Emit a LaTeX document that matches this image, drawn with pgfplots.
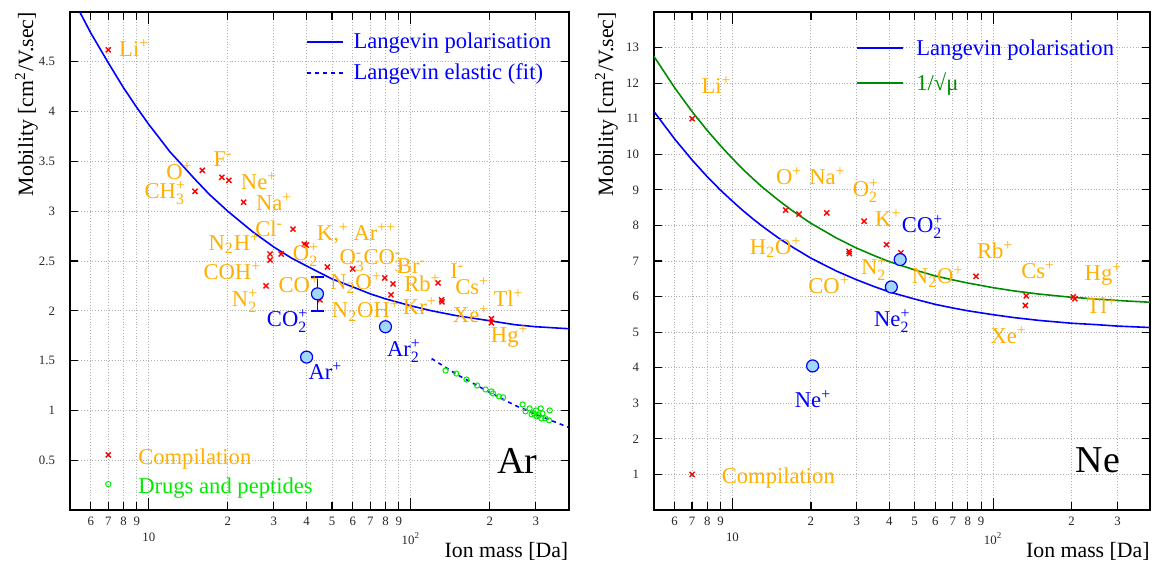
\documentclass[border=0pt]{standalone}
\usepackage{amsmath}
\usepackage{fontspec}
\setmainfont{Liberation Serif}
\usepackage{pgfplots}
\pgfplotsset{compat=1.18}
\definecolor{orng}{RGB}{255,175,0}
\definecolor{rblue}{RGB}{0,0,255}
\definecolor{dgreen}{RGB}{0,140,0}
\definecolor{lgreen}{RGB}{0,235,0}
\definecolor{lblue}{RGB}{160,215,250}

\newcommand{\lblfont}{\fontsize{11.3}{13}\selectfont}
\newcommand{\titfont}{\fontsize{10.9}{13}\selectfont}
% ion charge / subscript helpers (text font)
\newcommand{\up}[1]{$^{\text{#1}}$}
\newcommand{\dn}[1]{$_{\text{#1}}$}
\newcommand{\ud}[2]{$_{\text{#1}}^{\text{#2}}$}

\tikzset{
  lab/.style={anchor=base west, inner sep=0pt, font=\lblfont, text=orng},
  blab/.style={anchor=base west, inner sep=0pt, font=\lblfont, text=rblue},
}
\pgfplotsset{
  cross/.style={only marks, mark=x, mark size=1.8pt, red, mark options={line width=0.7pt}},
  bigc/.style={only marks, mark=*, mark size=3pt,
    mark options={fill=lblue, draw=rblue, line width=0.6pt}},
}

\begin{document}
\begin{tikzpicture}

% ---------------- Ar ----------------
\begin{axis}[
  at={(35pt,28pt)}, anchor=south west,
  scale only axis, width=249.3pt, height=249pt,
  xmode=log, xmin=5, xmax=400, ymin=0, ymax=5,
  xtick={6,7,8,9,20,30,40,50,60,70,80,90,200,300},
  xticklabels={6,7,8,9,2,3,4,5,6,7,8,9,2,3},
  extra x ticks={10,100},
  extra x tick labels={10,10\textsuperscript{2}},
  extra x tick style={major tick length=6pt, xticklabel style={yshift=-8pt}},
  minor xtick={},
  ytick={0.5,1,1.5,2,2.5,3,3.5,4,4.5},
  grid=major,
  grid style={gray!60, densely dotted, line width=0.45pt},
  axis line style={line width=1pt},
  major tick length=4pt,
  tick style={black, line width=0.6pt},
  tick label style={font=\fontsize{6.4}{7}\selectfont, text=black!85},
  yticklabel style={xshift=-4pt},
  /pgf/number format/assume math mode=true,
  clip mode=individual,
]
% Langevin polarisation
\addplot[rblue, line width=0.8pt] coordinates {
  (5,5.19)(5.5,4.98)(6,4.79)(7,4.49)(8,4.24)(9,4.04)(10,3.87)(11,3.73)
  (12,3.60)(13,3.50)(15,3.32)(17,3.17)(20,3.00)(25,2.79)(30,2.64)(35,2.53)
  (40,2.45)(50,2.32)(60,2.24)(70,2.17)(80,2.12)(100,2.05)(120,2.00)
  (150,1.95)(200,1.90)(250,1.86)(300,1.84)(400,1.82)
};
% Langevin elastic (fit)
\addplot[rblue, line width=0.8pt, dash pattern=on 2pt off 2pt] coordinates {
  (120,1.52)(150,1.36)(200,1.18)(250,1.05)(300,0.96)(350,0.89)(400,0.83)
};
% drugs and peptides
\addplot[only marks, mark=o, mark size=1.3pt, lgreen, mark options={line width=0.5pt}] coordinates {
  (135.7,1.40)(149,1.37)(163,1.31)(179,1.25)(193,1.21)(203,1.19)(206,1.17)
  (217,1.14)(225,1.13)(267,1.06)(274,0.99)(284,1.02)(289,0.96)(300,1.00)
  (302,0.94)(313,1.02)(318,0.97)(315,0.92)(326,0.92)(339,1.00)(337,0.90)
  (295,0.97)(308,0.95)
};
% compilation
\addplot[cross] coordinates {
  (7,4.62)(16,3.41)(15,3.20)(19,3.34)(20.2,3.31)(23,3.09)(35.5,2.82)
  (29,2.57)(29,2.51)(32,2.57)(28,2.25)(39.2,2.67)(39.9,2.66)(48,2.44)
  (60,2.42)(45,2.11)(79.5,2.33)(85.5,2.27)(84,2.16)(127,2.28)
  (131,2.11)(131.5,2.09)(203,1.92)(203,1.88)
};
% measured ions (CO2+ with error bar)
\addplot[rblue, line width=0.9pt] coordinates {(44,2.0)(44,2.34)};
\addplot[rblue, line width=0.9pt] coordinates {(41.5,2.34)(46.6,2.34)};
\addplot[rblue, line width=0.9pt] coordinates {(41.5,2.0)(46.6,2.0)};
\addplot[bigc] coordinates {(44,2.17)(40,1.535)(80,1.84)};

% legend (top)
\addplot[rblue, line width=0.8pt] coordinates {(40.2,4.70)(55.1,4.70)};
\addplot[rblue, line width=0.8pt, dash pattern=on 2pt off 2pt] coordinates {(40.2,4.39)(55.1,4.39)};
\node[blab] at (axis cs:60.2,4.63) {Langevin polarisation};
\node[blab] at (axis cs:60.2,4.32) {Langevin elastic (fit)};
% legend (bottom)
\addplot[cross] coordinates {(7,0.553)};
\addplot[only marks, mark=o, mark size=1.3pt, lgreen, mark options={line width=0.5pt}] coordinates {(7,0.26)};
\node[lab] at (axis cs:9.08,0.46) {Compilation};
\node[lab, text=lgreen] at (axis cs:9.08,0.17) {Drugs and peptides};
\node[anchor=base west, inner sep=0pt, font=\fontsize{19}{22}\selectfont] at (axis cs:212.8,0.37) {Ar};

% species labels
\node[lab] at (axis cs:7.68,4.55) {Li\up{+}};
\node[lab] at (axis cs:11.61,3.32) {O\up{+}};
\node[lab] at (axis cs:17.60,3.45) {F\up{-}};
\node[lab] at (axis cs:9.60,3.13) {CH\ud{3}{+}};
\node[lab] at (axis cs:22.39,3.22) {Ne\up{+}};
\node[lab] at (axis cs:25.55,3.01) {Na\up{+}};
\node[lab] at (axis cs:25.39,2.75) {Cl\up{-}};
\node[lab] at (axis cs:16.84,2.61) {N\dn{2}H\up{+}};
\node[lab] at (axis cs:16.12,2.31) {COH\up{+}};
\node[lab] at (axis cs:20.69,2.04) {N\ud{2}{+}};
\node[lab] at (axis cs:43.65,2.71) {K,\up{+}};
\node[lab] at (axis cs:60.24,2.71) {Ar\up{++}};
\node[lab] at (axis cs:35.36,2.51) {O\ud{2}{+}};
\node[lab] at (axis cs:53.25,2.46) {O\ud{3}{-}};
\node[lab] at (axis cs:65.77,2.46) {CO\ud{3}{-}};
\node[lab] at (axis cs:49.07,2.21) {N\dn{2}O\up{+}};
\node[lab] at (axis cs:31.16,2.18) {CO\up{+}};
\node[lab] at (axis cs:49.81,1.93) {N\dn{2}OH\up{+}};
\node[lab] at (axis cs:88.19,2.37) {Br\up{-}};
\node[lab] at (axis cs:94.04,2.19) {Rb\up{+}};
\node[lab] at (axis cs:140.9,2.32) {I\up{-}};
\node[lab] at (axis cs:147.2,2.16) {Cs\up{+}};
\node[lab] at (axis cs:206.2,2.04) {Tl\up{+}};
\node[lab] at (axis cs:92.96,1.96) {Kr\up{+}};
\node[lab] at (axis cs:144.3,1.88) {Xe\up{+}};
\node[lab] at (axis cs:201.5,1.68) {Hg\up{+}};
\node[blab] at (axis cs:28.13,1.84) {CO\ud{2}{+}};
\node[blab] at (axis cs:40.55,1.31) {Ar\up{+}};
\node[blab] at (axis cs:80.8,1.54) {Ar\ud{2}{+}};
\end{axis}

% ---------------- Ne ----------------
\begin{axis}[
  at={(327pt,28pt)}, anchor=south west,
  scale only axis, width=248pt, height=249pt,
  xmode=log, xmin=5, xmax=400, ymin=0, ymax=14,
  xtick={6,7,8,9,20,30,40,50,60,70,80,90,200,300},
  xticklabels={6,7,8,9,2,3,4,5,6,7,8,9,2,3},
  extra x ticks={10,100},
  extra x tick labels={10,10\textsuperscript{2}},
  extra x tick style={major tick length=6pt, xticklabel style={yshift=-8pt}},
  minor xtick={},
  ytick={1,2,3,4,5,6,7,8,9,10,11,12,13},
  grid=major,
  grid style={gray!60, densely dotted, line width=0.45pt},
  axis line style={line width=1pt},
  major tick length=4pt,
  tick style={black, line width=0.6pt},
  tick label style={font=\fontsize{6.4}{7}\selectfont, text=black!85},
  yticklabel style={xshift=-4pt},
  /pgf/number format/assume math mode=true,
  clip mode=individual,
]
% Langevin polarisation
\addplot[rblue, line width=0.8pt] coordinates {
  (5,11.20)(6,10.43)(7,9.84)(8,9.37)(9,8.99)(10,8.68)(11,8.41)(12,8.18)
  (13,7.98)(15,7.65)(17,7.39)(20,7.08)(25,6.72)(30,6.47)(35,6.28)(40,6.13)
  (50,5.93)(60,5.78)(70,5.68)(80,5.60)(100,5.49)(120,5.41)(150,5.33)
  (200,5.25)(250,5.21)(300,5.17)(400,5.13)
};
% 1/sqrt(mu)
\addplot[dgreen, line width=0.8pt] coordinates {
  (5,12.75)(6,11.87)(7,11.20)(8,10.67)(9,10.24)(10,9.88)(11,9.57)(12,9.31)
  (13,9.08)(15,8.71)(17,8.41)(20,8.06)(25,7.65)(30,7.36)(35,7.15)(40,6.98)
  (50,6.75)(60,6.58)(70,6.47)(80,6.38)(100,6.25)(120,6.16)(150,6.07)
  (200,5.98)(250,5.93)(300,5.89)(400,5.84)
};
% compilation
\addplot[cross] coordinates {
  (7,11.0)(16,8.43)(18,8.32)(23,8.35)(28,7.27)(28.1,7.21)(32,8.12)
  (39,7.46)(44.3,7.23)(86,6.57)(134,6.02)(133,5.75)(203,5.99)(206,5.94)
};
% measured ions
\addplot[bigc] coordinates {(44,7.04)(40.7,6.27)(20.3,4.05)};

% legend (top)
\addplot[rblue, line width=0.9pt, solid] coordinates {(30.06,12.98)(45.2,12.98)};
\addplot[dgreen, line width=0.8pt] coordinates {(30.06,12.01)(45.2,12.01)};
\node[blab] at (axis cs:50.6,12.78) {Langevin polarisation};
\node[blab, text=dgreen] at (axis cs:50.6,11.78) {1/√μ};
% legend (bottom)
\addplot[cross] coordinates {(7,1.0)};
\node[lab] at (axis cs:9.07,0.75) {Compilation};
\node[anchor=base west, inner sep=0pt, font=\fontsize{19}{22}\selectfont] at (axis cs:206.5,1.04) {Ne};

% species labels
\node[lab] at (axis cs:7.58,11.70) {Li\up{+}};
\node[lab] at (axis cs:14.64,9.15) {O\up{+}};
\node[lab] at (axis cs:19.66,9.15) {Na\up{+}};
\node[lab] at (axis cs:28.87,8.82) {O\ud{2}{+}};
\node[lab] at (axis cs:35.17,7.96) {K\up{+}};
\node[lab] at (axis cs:11.63,7.18) {H\dn{2}O\up{+}};
\node[lab] at (axis cs:86.5,7.06) {Rb\up{+}};
\node[lab] at (axis cs:31.07,6.61) {N\ud{2}{+}};
\node[lab] at (axis cs:19.49,6.10) {CO\up{+}};
\node[lab] at (axis cs:48.67,6.36) {N\dn{2}O\up{+}};
\node[lab] at (axis cs:127.8,6.50) {Cs\up{+}};
\node[lab] at (axis cs:223.9,6.45) {Hg\up{+}};
\node[lab] at (axis cs:227.9,5.51) {Tl\up{+}};
\node[lab] at (axis cs:97.4,4.69) {Xe\up{+}};
\node[blab] at (axis cs:44.55,7.79) {CO\ud{2}{+}};
\node[blab] at (axis cs:34.85,5.16) {Ne\ud{2}{+}};
\node[blab] at (axis cs:17.3,2.89) {Ne\up{+}};
\end{axis}

% axis titles
\node[rotate=90, anchor=base east, inner sep=0pt, font=\titfont] at (16.5pt,277pt) {Mobility [cm\up{2}/V.sec]};
\node[rotate=90, anchor=base east, inner sep=0pt, font=\titfont] at (306.5pt,277pt) {Mobility [cm\up{2}/V.sec]};
\node[anchor=base east, inner sep=0pt, font=\titfont] at (284.3pt,4pt) {Ion mass [Da]};
\node[anchor=base east, inner sep=0pt, font=\titfont] at (575pt,4pt) {Ion mass [Da]};

\pgfresetboundingbox
\useasboundingbox (0,0) rectangle (576pt,283pt);
\end{tikzpicture}
\end{document}
